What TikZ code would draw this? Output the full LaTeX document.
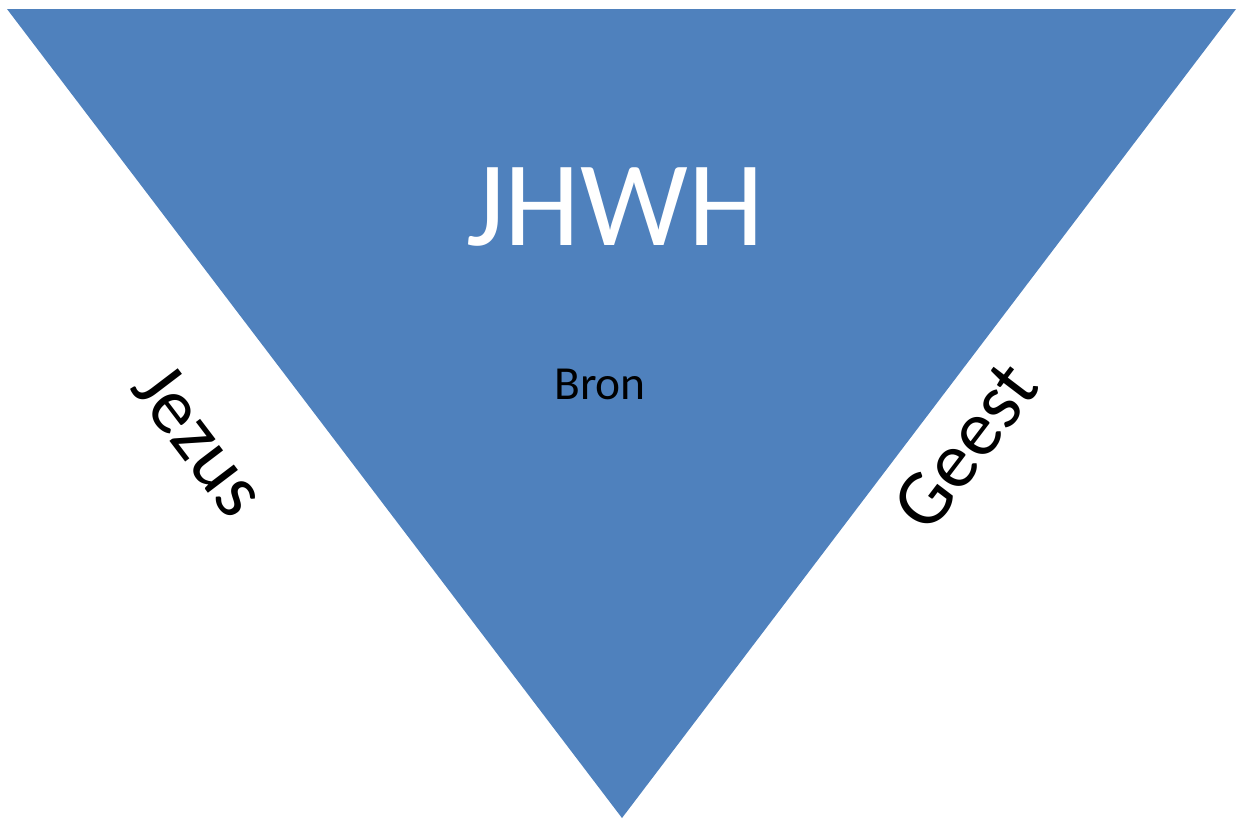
\documentclass[tikz,border=0pt]{standalone}
\usepackage{fontspec}
\setmainfont{Carlito}
\definecolor{triblue}{HTML}{4F81BD}

\begin{document}
\begin{tikzpicture}
[triFill/.style={fill=triblue,draw=none},%
  sideLabel/.style={font=\fontsize{45}{52}\selectfont,text=black,inner sep=0pt},%
  x=0.02cm,y=-0.02cm]
\useasboundingbox (0,0) rectangle (1244,822);
%% corners of the triangle
\coordinate (tl) at (7,9);
\coordinate (tr) at (1236,9);
\coordinate (bt) at (622,818);
\path[triFill] (tl) -- (tr) -- (bt) -- cycle;
%% texts
\node (jhwh) at (615,207) [text=white,font=\fontsize{69}{78}\selectfont] {JHWH};
\node (bron) at (600,384) [font=\fontsize{27}{32}\selectfont] {Bron};
\node (jezus) at (200,440) [sideLabel,rotate=-52.75] {Jezus};
\node (geest) at (965,446) [sideLabel,rotate=52.75] {Geest};
\end{tikzpicture}
\end{document}
